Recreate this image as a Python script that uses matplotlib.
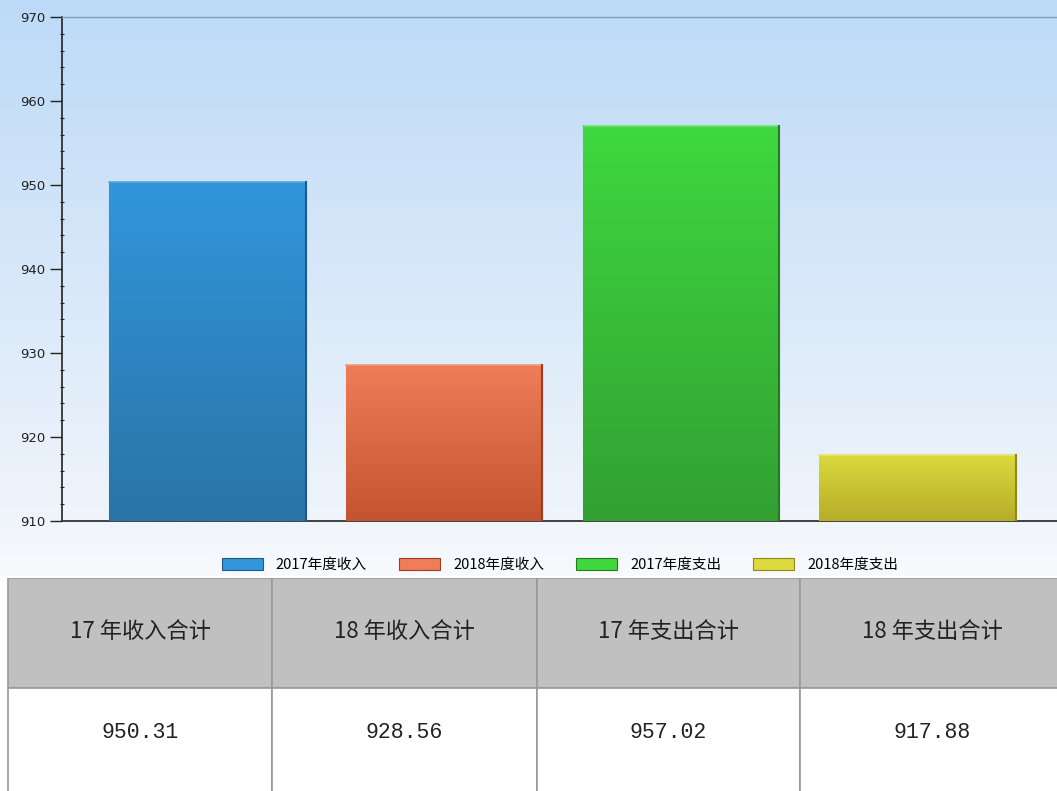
import numpy as np
import matplotlib
matplotlib.use("Agg")
import matplotlib.pyplot as plt
from matplotlib.patches import Rectangle
from matplotlib.colors import LinearSegmentedColormap

plt.rcParams['font.family'] = ['Noto Sans CJK SC', 'DejaVu Sans']

# ---- data ----
series = ["2017年度收入", "2018年度收入", "2017年度支出", "2018年度支出"]
values = [950.31, 928.56, 957.02, 917.88]
table_headers = ["17 年收入合计", "18 年收入合计", "17 年支出合计", "18 年支出合计"]
y_ticks = [910, 920, 930, 940, 950, 960, 970]

top_colors = ["#3196dc", "#ee7d58", "#3fd83f", "#dcda3c"]
bot_colors = ["#2a74a6", "#c4532f", "#32a032", "#b6ad2a"]
edge_colors = ["#1f5a85", "#9a3f22", "#257a25", "#8f8720"]
light_edges = ["#5aa8dc", "#f09a7c", "#6ee06e", "#e4e26e"]

W, H = 1057, 791
fig = plt.figure(figsize=(W / 100, H / 100), dpi=100)

def fx(px):
    return px / W

def fy(py):
    return 1 - py / H

# ---- background gradient (top area) ----
bg = fig.add_axes([0, fy(576), 1, fy(0) - fy(576)], zorder=0)
grad = np.linspace(0, 1, 256).reshape(-1, 1)
bg_cmap = LinearSegmentedColormap.from_list(
    "bg", [(0, "#bcdaf7"), (0.45, "#d6e7f9"), (0.88, "#eef4fb"), (1, "#f8fafd")])
bg.imshow(grad, aspect='auto', cmap=bg_cmap, extent=(0, 1, 0, 1), origin='upper')
bg.set_axis_off()

# ---- main axes ----
ax = fig.add_axes([fx(62), fy(521), 1 - fx(62), fy(17) - fy(521)], zorder=2)
ax.set_facecolor('none')
x = np.arange(len(values))
width = 0.83
bars = ax.bar(x, np.array(values) - 910, bottom=910, width=width,
              color=top_colors, edgecolor=light_edges, linewidth=0.8, zorder=3)
for i, (b, v) in enumerate(zip(bars, values)):
    cm = LinearSegmentedColormap.from_list(f"b{i}", [top_colors[i], bot_colors[i]])
    im = ax.imshow(grad, aspect='auto', cmap=cm, origin='upper',
                   extent=(x[i] - width / 2, x[i] + width / 2, 910, v), zorder=3.5)
    im.set_clip_path(b)
    ax.plot([x[i] - width / 2, x[i] + width / 2], [v, v], color=light_edges[i], lw=1.2, zorder=4)
    ax.plot([x[i] + width / 2, x[i] + width / 2], [910, v], color=edge_colors[i], lw=1.5, zorder=4)

ax.set_xlim(-0.614, 3.589)
ax.set_ylim(910, 970)
ax.set_yticks(y_ticks)
ax.set_yticks(np.arange(910, 971, 2), minor=True)
ax.set_xticks([])
ax.tick_params(axis='y', which='major', length=9, width=1, color='#222222', labelsize=9.5,
               labelcolor='#222222', pad=3)
ax.tick_params(axis='y', which='minor', length=3, width=0.8, color='#222222', direction='inout')
for lab in ax.get_yticklabels():
    lab.set_family('DejaVu Sans')
ax.spines['right'].set_visible(False)
ax.spines['top'].set_color('#7fa3c8')
ax.spines['top'].set_linewidth(1.0)
ax.spines['left'].set_color('#222222')
ax.spines['left'].set_linewidth(1.2)
ax.spines['bottom'].set_color('#333333')
ax.spines['bottom'].set_linewidth(1.3)

# ---- legend ----
handles = [Rectangle((0, 0), 1, 1, facecolor=top_colors[i], edgecolor=edge_colors[i], lw=0.8)
           for i in range(len(series))]
fig.legend(handles, series, loc='center', bbox_to_anchor=(fx(560), fy(565)), ncol=4,
           frameon=False, fontsize=10.5, handlelength=2.8, handleheight=0.85,
           columnspacing=2.2, handletextpad=0.9)

# ---- table ----
tab = fig.add_axes([0, 0, 1, fy(578)], zorder=1)
tab.set_xlim(0, W)
tab.set_ylim(791, 578)
tab.set_axis_off()
col_edges = [8, 272, 537, 800, 1064]
row_edges = [578, 688, 792]
line_c = '#999999'
for c in range(len(table_headers)):
    x0, x1 = col_edges[c], col_edges[c + 1]
    tab.add_patch(Rectangle((x0, row_edges[0]), x1 - x0, row_edges[1] - row_edges[0],
                            facecolor='#c0c0c0', edgecolor=line_c, lw=1.2))
    tab.add_patch(Rectangle((x0, row_edges[1]), x1 - x0, row_edges[2] - row_edges[1],
                            facecolor='white', edgecolor=line_c, lw=1.2))
    cx = (x0 + x1) / 2 if c < 3 else (x0 + 1064) / 2
    tab.text(cx, 632, table_headers[c], ha='center', va='center',
             fontsize=16, color='#222222')
    tab.text(cx, 733, f"{values[c]:.2f}", ha='center', va='center',
             fontsize=15.5, color='#222222', family='Liberation Mono')

fig.savefig("out.png", dpi=100)
